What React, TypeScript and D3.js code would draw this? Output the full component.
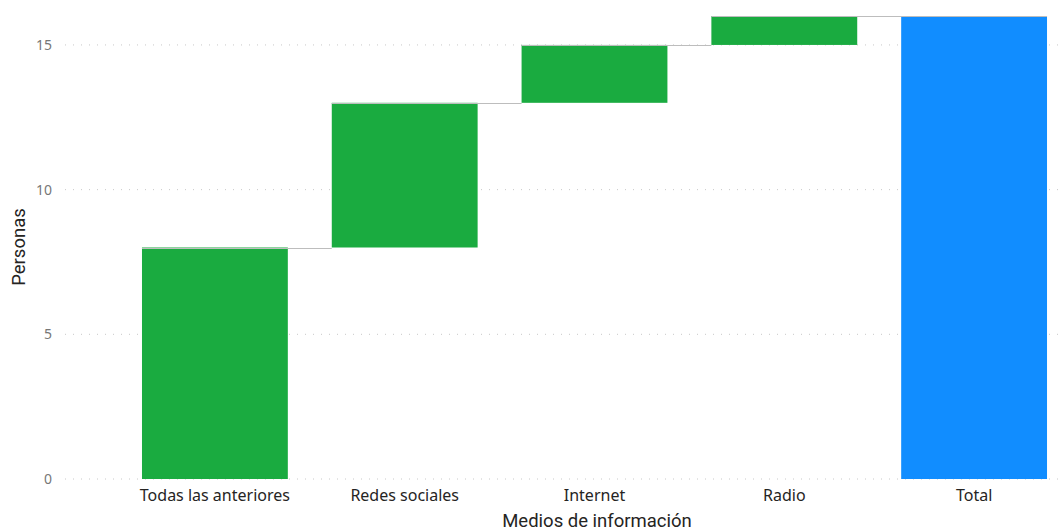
import React from "react";
import * as d3 from "d3";

const categories = ["Todas las anteriores", "Redes sociales", "Internet", "Radio", "Total"];
const values = [8, 5, 2, 1, 16];
const isTotal = [false, false, false, false, true];
const yTicks = [0, 5, 10, 15];

const W = 1064;
const H = 531;

export default function App() {
  const x = d3
    .scaleBand<string>()
    .domain(categories)
    .range([120, 1069])
    .paddingInner(0.2316)
    .paddingOuter(0.1158);
  const y = d3.scaleLinear().domain([0, 16]).range([479, 16]);

  let run = 0;
  const bars = categories.map((c, i) => {
    let start: number, end: number;
    if (isTotal[i]) {
      start = 0;
      end = values[i];
    } else {
      start = run;
      end = run + values[i];
      run = end;
    }
    return { c, start, end, total: isTotal[i] };
  });

  const bw = x.bandwidth();
  const tickFont = "'Segoe UI', 'Noto Sans', sans-serif";
  const titleFont = "'DIN', 'Roboto', sans-serif";

  return (
    <svg width={W} height={H} style={{ position: "absolute", left: 0, top: 0, background: "#fff" }}>
      {yTicks.map((t) => (
        <g key={t}>
          <line
            x1={65}
            x2={W}
            y1={y(t)}
            y2={y(t)}
            stroke="#c8c8c8"
            strokeWidth={1}
            strokeDasharray="1,7"
          />
          <text
            x={52}
            y={y(t)}
            dy="0.35em"
            textAnchor="end"
            fontFamily={tickFont}
            fontSize={14}
            fill="#777"
          >
            {t}
          </text>
        </g>
      ))}
      {bars.map((b) => (
        <rect
          key={b.c}
          x={x(b.c)}
          y={y(Math.max(b.start, b.end))}
          width={bw}
          height={Math.abs(y(b.start) - y(b.end))}
          fill={b.total ? "#118DFF" : "#1AAB40"}
        />
      ))}
      {bars.slice(0, -1).map((b, i) => {
        const next = bars[i + 1];
        const x1 = x(b.c)!;
        const x2 = x(next.c)! + (next.total ? bw : 0);
        return (
          <line
            key={"c" + i}
            x1={x1}
            x2={x2}
            y1={Math.round(y(b.end)) + 0.5}
            y2={Math.round(y(b.end)) + 0.5}
            stroke="#bdbdbd"
            strokeWidth={1}
          />
        );
      })}
      {categories.map((c) => (
        <text
          key={c}
          x={x(c)! + bw / 2}
          y={501}
          textAnchor="middle"
          fontFamily={tickFont}
          fontSize={16}
          fill="#252423"
        >
          {c}
        </text>
      ))}
      <text
        x={597}
        y={527}
        textAnchor="middle"
        fontFamily={titleFont}
        fontSize={18.5}
        fill="#252423"
      >
        Medios de información
      </text>
      <text
        transform={`translate(24.5,247) rotate(-90)`}
        textAnchor="middle"
        fontFamily={titleFont}
        fontSize={18.5}
        fill="#252423"
      >
        Personas
      </text>
    </svg>
  );
}
